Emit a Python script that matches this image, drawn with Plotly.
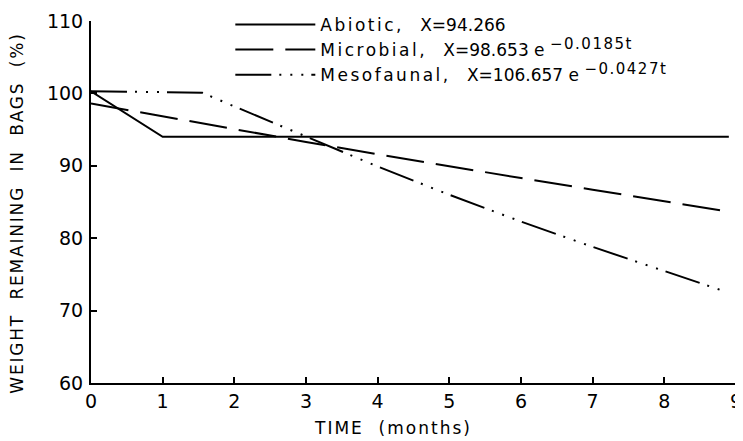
import plotly.graph_objects as go

# Data (time in months, % weight remaining)
abiotic_t = [0, 1, 8.9]
abiotic_w = [100.3, 94.0, 94.0]

microbial_t = [0, 1, 2, 3, 4, 5, 6, 7, 8, 8.88]
microbial_w = [98.6, 96.8, 95.0, 93.3, 91.6, 89.9, 88.3, 86.7, 85.1, 83.7]

mesofaunal_t = [0, 1.55, 2, 3, 4, 5, 6, 7, 8, 8.8]
mesofaunal_w = [100.3, 100.1, 98.2, 94.0, 89.9, 86.0, 82.3, 78.8, 75.5, 72.8]

series_labels = ["Abiotic,", "Microbial,", "Mesofaunal,"]
equations = ["X=94.266", "X=98.653 e", "X=106.657 e"]
exponents = ["", "−0.0185t", "−0.0427t"]


def legend_name(label, eq, exp):
    s = "<span style='letter-spacing:2.5px'>" + label + "</span>   " + eq
    if exp:
        s += " <sup><span style='font-size:15px;letter-spacing:1.5px'>" + exp + "</span></sup>"
    return s


names = [legend_name(l, e, x) for l, e, x in zip(series_labels, equations, exponents)]

x_ticks = [0, 1, 2, 3, 4, 5, 6, 7, 8, 9]
y_ticks = [60, 70, 80, 90, 100, 110]

FONT = "DejaVu Sans"

fig = go.Figure()
fig.add_trace(go.Scatter(x=abiotic_t, y=abiotic_w, mode="lines", name=names[0],
                         line=dict(color="black", width=2, dash="solid")))
fig.add_trace(go.Scatter(x=microbial_t, y=microbial_w, mode="lines", name=names[1],
                         line=dict(color="black", width=2, dash="38px,12px")))
fig.add_trace(go.Scatter(x=mesofaunal_t, y=mesofaunal_w, mode="lines", name=names[2],
                         line=dict(color="black", width=2,
                                   dash="36px,8px,2px,9px,2px,9px,2px,8px")))

# the page body adds an 8px offset, so the figure is sized to fit the window
fig.update_layout(
    template="none",
    width=735, height=433,
    margin=dict(l=83, r=7, t=13, b=58, autoexpand=False),
    paper_bgcolor="white", plot_bgcolor="white",
    font=dict(family=FONT, size=17, color="black"),
    showlegend=True,
    legend=dict(x=0.216, y=1.039, xanchor="left", yanchor="top",
                bgcolor="rgba(0,0,0,0)", itemwidth=80,
                font=dict(family=FONT, size=17, color="black"),
                tracegroupgap=0),
    xaxis=dict(range=[0, 9], tickvals=x_ticks, ticktext=[str(v) for v in x_ticks],
               showgrid=False, zeroline=False, showline=True, linecolor="black",
               linewidth=2, ticks="inside", ticklen=6, tickwidth=2, tickcolor="black",
               tickfont=dict(family=FONT, size=19), ticklabelstandoff=0,
               automargin=False),
    yaxis=dict(range=[60, 110], tickvals=y_ticks, ticktext=[str(v) for v in y_ticks],
               showgrid=False, zeroline=False, showline=True, linecolor="black",
               linewidth=2, ticks="inside", ticklen=6, tickwidth=2, tickcolor="black",
               tickfont=dict(family=FONT, size=19), ticklabelstandoff=2,
               automargin=False),
    annotations=[
        dict(text="<span style='letter-spacing:2px'>TIME  (months)</span>",
             xref="paper", yref="paper", x=0.468, y=-0.125,
             xanchor="center", yanchor="middle", showarrow=False,
             font=dict(family=FONT, size=17)),
        dict(text="<span style='letter-spacing:1.8px'>WEIGHT  REMAINING  IN  BAGS  (%)</span>",
             xref="paper", yref="paper",
             x=-0.115, y=0.47, xanchor="center", yanchor="middle", showarrow=False,
             textangle=-90, font=dict(family=FONT, size=17)),
    ],
)

fig.write_html("out.html")
